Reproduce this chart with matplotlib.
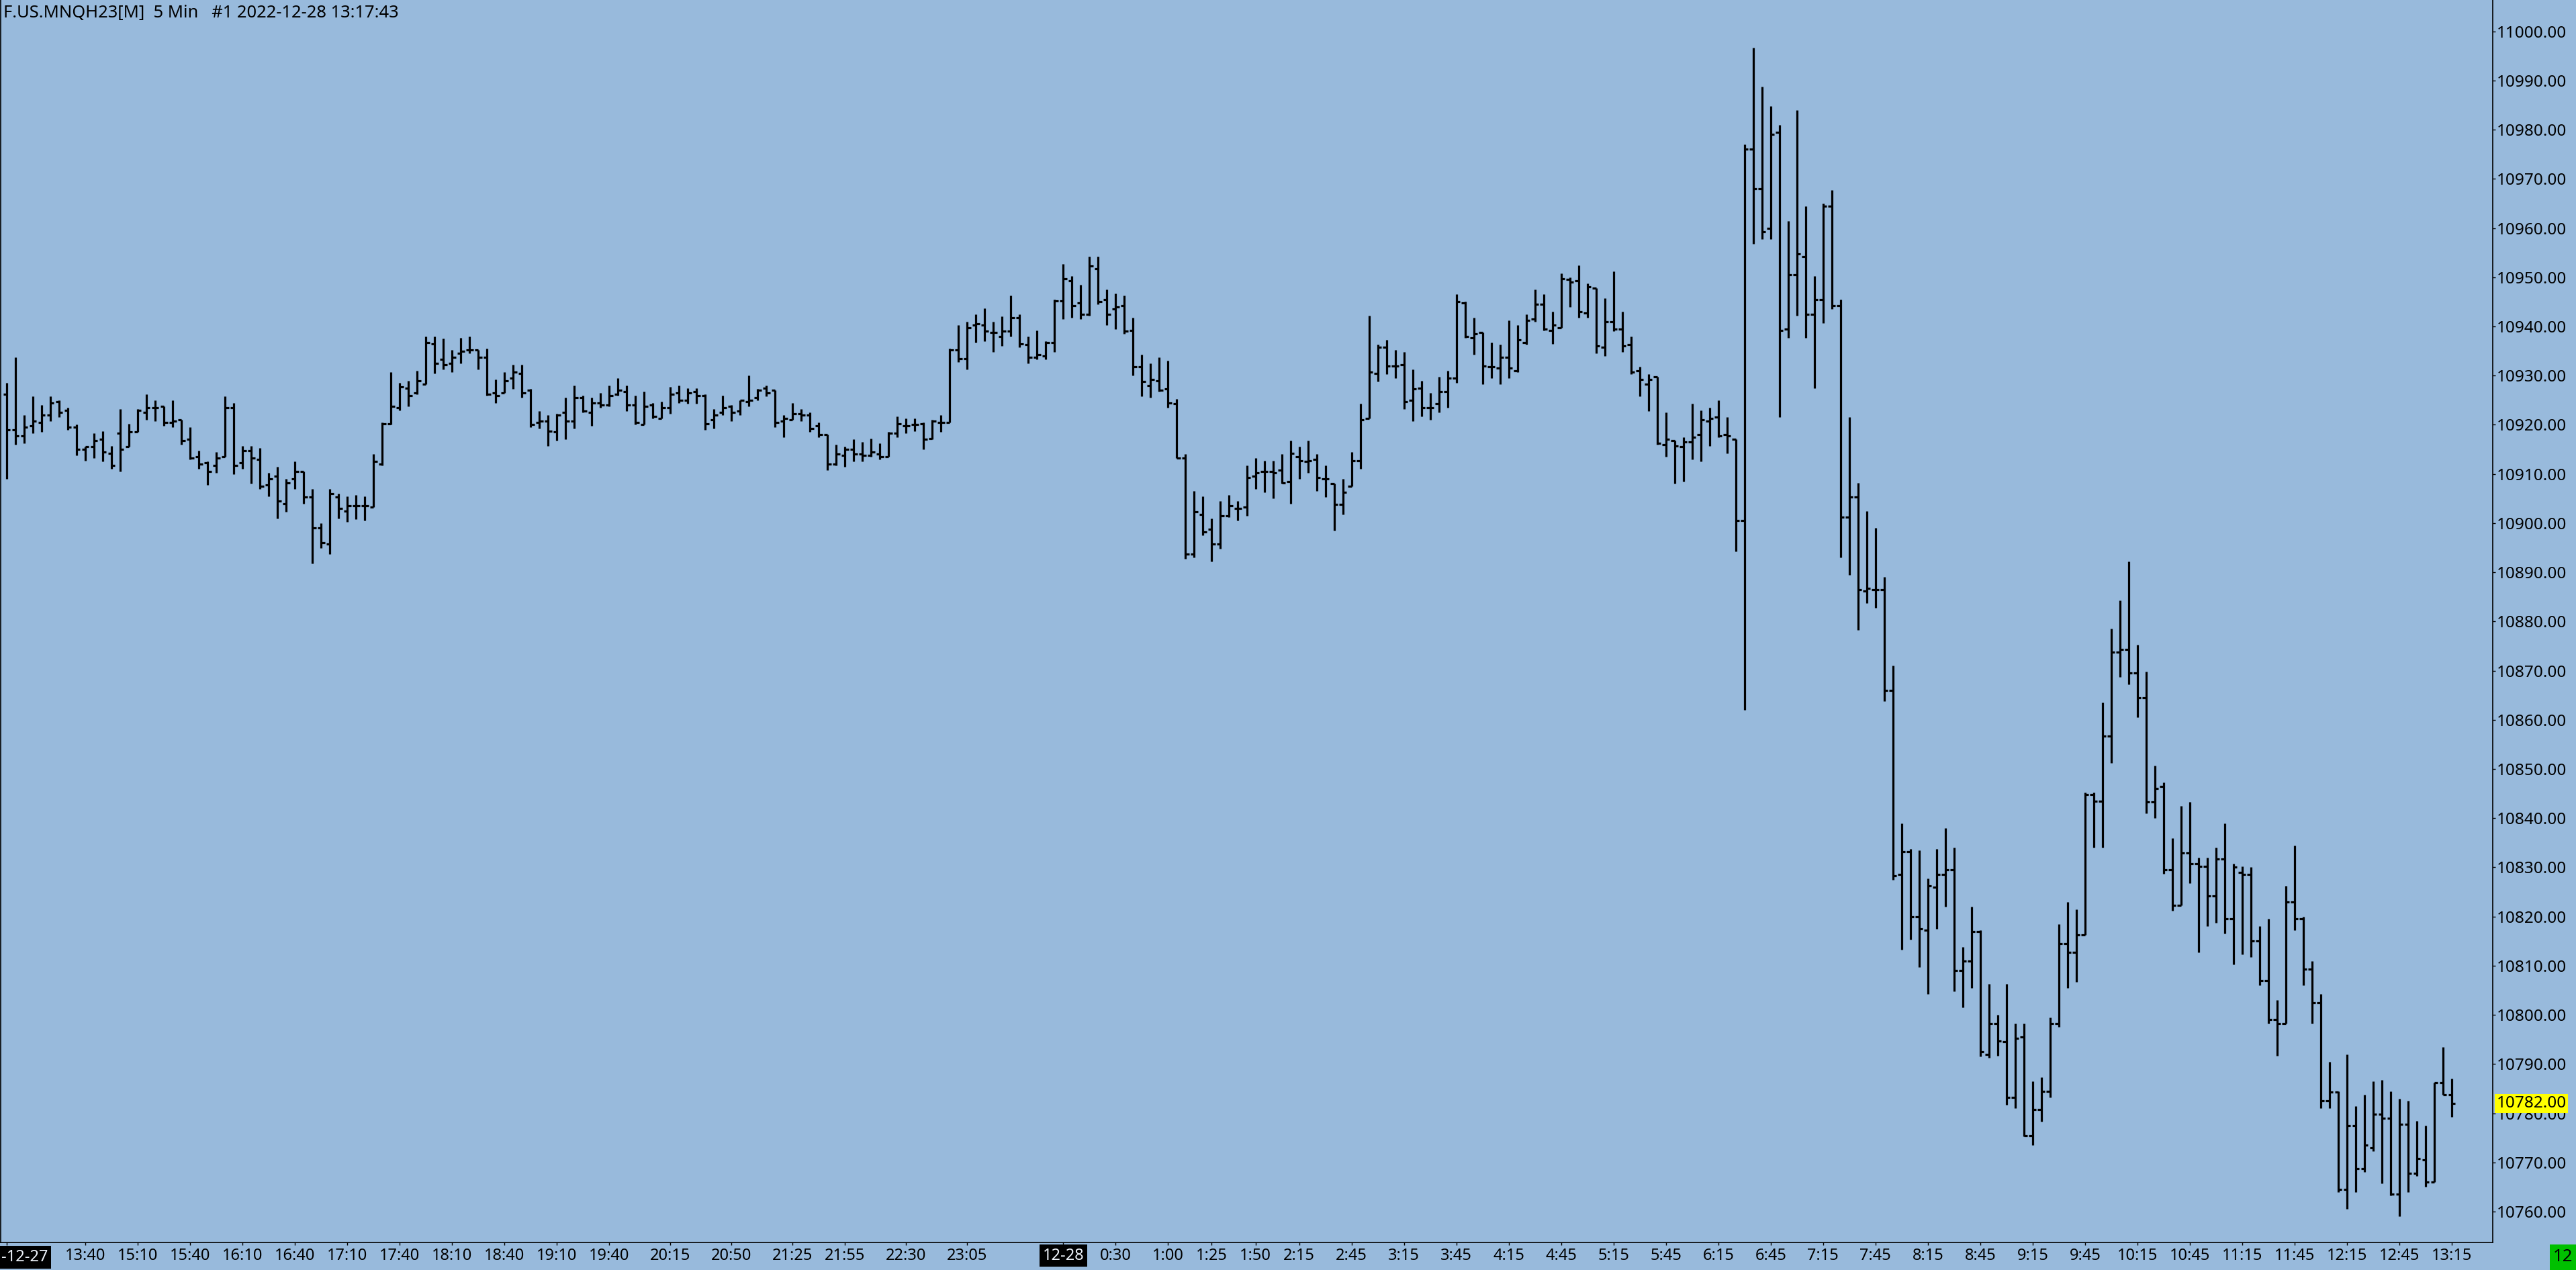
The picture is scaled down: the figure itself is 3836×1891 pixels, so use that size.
import numpy as np
from matplotlib import pyplot as plt
from matplotlib import transforms
from matplotlib.patches import Rectangle
from matplotlib.ticker import FormatStrFormatter

plt.rcParams['font.family'] = ['Noto Sans', 'DejaVu Sans']

# 5 min bars, 2022-12-27 12:55 .. 2022-12-28 13:15 (14:00-14:55 halt missing)
opens = [10926.25, 10919.0, 10917.75, 10919.75, 10920.5, 10922.0, 10924.75, 10923.0, 10919.5, 10915.0,
         10915.5, 10917.0, 10914.25, 10918.25, 10915.5, 10918.5, 10922.5, 10923.5, 10923.75, 10920.5,
         10921.0, 10917.0, 10913.5, 10912.25, 10911.75, 10913.5, 10923.5, 10912.25, 10914.75, 10913.0,
         10907.75, 10909.5, 10904.0, 10909.0, 10910.5, 10905.25, 10899.0, 10895.75, 10905.25, 10902.5,
         10903.5, 10903.5, 10903.25, 10912.0, 10920.25, 10923.5, 10927.5, 10926.5, 10928.25, 10936.5,
         10933.25, 10932.5, 10934.5, 10935.25, 10935.25, 10933.75, 10926.5, 10926.5, 10929.5, 10930.5,
         10927.0, 10920.5, 10920.75, 10918.5, 10922.5, 10920.75, 10925.5, 10922.5, 10924.5, 10924.0,
         10926.25, 10926.75, 10924.0, 10920.0, 10924.0, 10921.25, 10923.5, 10926.5, 10925.0, 10926.75,
         10926.0, 10921.0, 10922.5, 10923.75, 10922.75, 10924.75, 10925.5, 10927.5, 10927.0, 10920.75,
         10921.0, 10922.25, 10922.0, 10919.75, 10918.0, 10912.0, 10913.75, 10915.0, 10914.0, 10913.75,
         10914.0, 10913.5, 10918.25, 10919.75, 10920.0, 10920.25, 10917.25, 10920.5, 10920.5, 10935.25,
         10933.5, 10940.25, 10940.25, 10938.75, 10938.0, 10939.0, 10941.75, 10936.25, 10933.75, 10934.0,
         10936.75, 10945.25, 10949.25, 10944.75, 10942.5, 10951.75, 10945.5, 10943.5, 10944.25, 10939.25,
         10931.75, 10928.0, 10929.0, 10927.25, 10924.25, 10913.25, 10893.75, 10901.75, 10898.75, 10895.75,
         10901.5, 10903.0, 10903.25, 10909.5, 10910.5, 10910.5, 10910.75, 10908.5, 10913.5, 10912.5,
         10913.0, 10909.0, 10908.0, 10903.75, 10907.5, 10912.75, 10921.25, 10930.5, 10935.75, 10932.0,
         10932.25, 10925.0, 10927.5, 10923.5, 10924.25, 10926.75, 10929.5, 10944.75, 10937.75, 10938.75,
         10931.75, 10931.5, 10933.75, 10931.0, 10936.75, 10941.5, 10944.5, 10939.25, 10939.75, 10949.5,
         10949.25, 10942.75, 10947.75, 10935.75, 10941.0, 10939.5, 10936.25, 10931.0, 10928.25, 10929.75,
         10916.0, 10916.75, 10915.5, 10916.5, 10918.0, 10920.75, 10921.5, 10918.0, 10917.0, 10900.5,
         10976.0, 10968.0, 10960.0, 10979.5, 10939.5, 10950.5, 10954.25, 10942.5, 10945.5, 10964.5,
         10944.25, 10901.25, 10905.25, 10886.25, 10886.5, 10886.5, 10866.0, 10828.5, 10833.25, 10820.0,
         10817.25, 10826.0, 10828.5, 10829.5, 10809.0, 10811.0, 10817.0, 10792.0, 10798.25, 10794.5,
         10783.25, 10795.5, 10775.5, 10780.75, 10784.5, 10798.25, 10814.5, 10812.75, 10816.25, 10844.75,
         10843.5, 10856.75, 10873.75, 10874.25, 10869.5, 10864.5, 10843.25, 10846.5, 10829.5, 10822.25,
         10833.0, 10830.75, 10830.25, 10824.25, 10831.75, 10819.5, 10829.0, 10828.5, 10815.0, 10807.0,
         10799.0, 10798.25, 10823.0, 10819.5, 10809.25, 10802.5, 10782.5, 10784.25, 10764.5, 10777.5,
         10768.75, 10773.0, 10779.75, 10779.0, 10763.5, 10777.75, 10767.75, 10770.5, 10766.0, 10786.25,
         10783.75]
highs = [10928.5, 10933.75, 10922.0, 10925.75, 10924.0, 10925.75, 10925.0, 10923.5, 10920.0, 10915.5,
         10918.25, 10918.75, 10915.75, 10923.25, 10920.25, 10923.25, 10926.25, 10925.0, 10923.75, 10925.0,
         10921.0, 10919.5, 10914.75, 10912.5, 10914.5, 10925.75, 10924.5, 10915.75, 10915.75, 10915.25,
         10910.25, 10911.5, 10909.0, 10912.5, 10910.5, 10907.0, 10900.0, 10907.0, 10906.0, 10905.5,
         10905.75, 10905.5, 10914.0, 10920.5, 10930.75, 10928.5, 10929.0, 10931.0, 10938.0, 10938.0,
         10937.5, 10935.25, 10937.75, 10938.0, 10935.25, 10935.5, 10929.25, 10930.75, 10932.25, 10932.25,
         10927.25, 10922.75, 10922.0, 10922.25, 10925.5, 10928.0, 10926.0, 10925.5, 10926.5, 10928.0,
         10929.5, 10928.0, 10926.0, 10926.75, 10924.5, 10924.75, 10927.75, 10928.0, 10927.5, 10927.5,
         10926.25, 10923.25, 10926.0, 10924.0, 10925.0, 10930.0, 10927.25, 10928.0, 10927.0, 10922.0,
         10924.5, 10923.25, 10922.5, 10920.5, 10918.0, 10916.0, 10915.5, 10917.0, 10916.5, 10917.25,
         10916.25, 10918.5, 10921.75, 10921.25, 10921.25, 10920.5, 10921.0, 10922.0, 10935.5, 10940.25,
         10941.0, 10942.5, 10943.75, 10941.0, 10942.0, 10946.25, 10942.5, 10938.0, 10939.25, 10937.0,
         10945.5, 10952.75, 10950.25, 10948.5, 10954.25, 10954.25, 10947.5, 10946.75, 10946.25, 10941.75,
         10934.25, 10932.5, 10933.75, 10933.0, 10925.25, 10914.0, 10906.5, 10905.5, 10901.0, 10904.5,
         10905.75, 10904.5, 10911.75, 10913.25, 10912.75, 10912.75, 10914.0, 10916.75, 10915.5, 10916.75,
         10914.0, 10911.75, 10908.0, 10909.0, 10914.5, 10924.25, 10942.25, 10936.25, 10937.25, 10935.25,
         10934.75, 10931.25, 10929.0, 10926.5, 10929.75, 10931.0, 10946.5, 10945.0, 10941.75, 10938.75,
         10936.75, 10936.25, 10941.25, 10940.25, 10942.5, 10947.5, 10946.5, 10943.0, 10950.75, 10950.0,
         10952.5, 10948.75, 10947.75, 10945.75, 10951.25, 10943.0, 10938.0, 10931.75, 10930.25, 10929.75,
         10922.5, 10916.75, 10917.5, 10924.25, 10923.0, 10923.5, 10925.0, 10921.5, 10917.0, 10977.0,
         10996.75, 10988.75, 10984.75, 10981.0, 10961.5, 10984.0, 10964.5, 10950.25, 10965.0, 10967.75,
         10945.5, 10921.5, 10908.25, 10902.5, 10899.0, 10889.0, 10871.0, 10839.0, 10833.75, 10833.5,
         10827.75, 10833.75, 10838.0, 10834.0, 10813.75, 10822.0, 10817.25, 10806.25, 10800.0, 10806.25,
         10798.25, 10798.25, 10786.5, 10787.25, 10799.5, 10818.5, 10823.0, 10821.5, 10845.25, 10845.25,
         10863.5, 10878.5, 10884.25, 10892.25, 10875.25, 10869.75, 10850.75, 10847.25, 10836.0, 10842.5,
         10843.25, 10832.0, 10832.0, 10834.0, 10839.0, 10830.75, 10830.25, 10830.0, 10818.0, 10819.5,
         10803.0, 10826.25, 10834.5, 10820.0, 10811.0, 10804.25, 10790.5, 10784.5, 10792.0, 10781.5,
         10783.75, 10786.5, 10786.75, 10784.5, 10783.0, 10782.5, 10778.5, 10777.5, 10786.25, 10793.5,
         10787.0]
lows = [10909.0, 10916.0, 10916.25, 10918.25, 10918.5, 10920.75, 10921.5, 10919.0, 10913.75, 10912.75,
        10913.25, 10912.5, 10911.0, 10910.5, 10915.5, 10918.5, 10921.0, 10920.75, 10919.75, 10919.5,
        10916.0, 10913.0, 10911.0, 10907.75, 10910.25, 10913.5, 10910.0, 10911.0, 10908.0, 10907.0,
        10905.5, 10901.0, 10902.25, 10907.0, 10904.0, 10891.75, 10895.0, 10893.75, 10901.0, 10900.25,
        10900.75, 10900.5, 10903.25, 10911.75, 10920.0, 10923.0, 10923.75, 10926.25, 10928.25, 10930.5,
        10931.25, 10930.75, 10932.5, 10934.5, 10931.25, 10926.0, 10924.5, 10926.5, 10927.25, 10925.5,
        10919.5, 10919.25, 10915.75, 10916.75, 10917.0, 10919.25, 10922.5, 10919.75, 10923.5, 10923.75,
        10926.0, 10922.75, 10920.0, 10920.0, 10921.25, 10921.25, 10922.25, 10924.5, 10924.25, 10924.25,
        10919.0, 10919.25, 10922.0, 10920.75, 10922.0, 10923.75, 10925.0, 10925.75, 10919.5, 10917.5,
        10921.0, 10920.75, 10918.5, 10917.5, 10910.75, 10911.75, 10911.5, 10912.5, 10912.5, 10913.5,
        10913.0, 10913.5, 10917.5, 10918.25, 10918.75, 10915.0, 10917.0, 10918.5, 10920.5, 10932.75,
        10931.25, 10936.75, 10937.0, 10934.75, 10936.0, 10938.0, 10935.75, 10932.5, 10933.25, 10933.25,
        10934.75, 10941.5, 10941.75, 10941.5, 10942.25, 10944.5, 10940.25, 10939.5, 10938.5, 10930.0,
        10925.75, 10925.5, 10926.75, 10923.5, 10913.25, 10892.75, 10893.0, 10897.5, 10892.25, 10894.75,
        10901.25, 10900.5, 10901.5, 10907.0, 10906.25, 10905.0, 10908.0, 10904.0, 10909.0, 10910.25,
        10906.5, 10905.25, 10898.5, 10901.75, 10907.5, 10911.0, 10921.25, 10928.75, 10930.25, 10929.5,
        10923.25, 10920.75, 10921.75, 10921.0, 10922.5, 10923.5, 10928.5, 10937.75, 10934.25, 10928.25,
        10929.5, 10928.25, 10929.5, 10930.75, 10936.25, 10941.0, 10939.25, 10936.5, 10939.75, 10944.0,
        10941.75, 10941.75, 10934.5, 10934.0, 10939.0, 10934.75, 10930.25, 10925.75, 10922.75, 10916.0,
        10913.5, 10908.0, 10908.5, 10913.0, 10912.5, 10915.75, 10917.5, 10914.25, 10894.25, 10862.0,
        10956.75, 10957.75, 10957.75, 10921.5, 10937.75, 10942.25, 10937.75, 10927.5, 10940.75, 10943.5,
        10893.0, 10889.5, 10878.25, 10883.75, 10882.75, 10863.75, 10827.5, 10813.25, 10815.25, 10809.75,
        10804.25, 10817.5, 10822.0, 10804.75, 10801.5, 10805.5, 10791.5, 10791.25, 10791.75, 10781.75,
        10781.0, 10775.25, 10773.5, 10778.25, 10783.25, 10797.5, 10805.5, 10806.75, 10816.25, 10834.0,
        10834.0, 10851.25, 10868.75, 10867.25, 10860.5, 10841.0, 10840.0, 10828.75, 10821.25, 10822.25,
        10826.75, 10812.75, 10818.0, 10818.75, 10816.5, 10810.25, 10812.25, 10811.75, 10806.0, 10798.25,
        10791.75, 10798.25, 10817.25, 10806.0, 10798.25, 10781.0, 10781.0, 10764.0, 10760.5, 10764.0,
        10768.0, 10772.25, 10765.75, 10763.25, 10759.0, 10764.0, 10767.25, 10765.0, 10766.0, 10783.75,
        10779.25]
closes = [10919.0, 10917.75, 10919.5, 10920.75, 10922.0, 10924.5, 10922.5, 10919.5, 10915.0, 10915.5,
          10916.75, 10914.5, 10911.75, 10915.0, 10918.5, 10923.0, 10923.5, 10923.5, 10920.5, 10920.75,
          10916.75, 10913.25, 10912.0, 10910.5, 10913.25, 10923.5, 10911.75, 10914.75, 10913.25, 10907.5,
          10909.0, 10904.5, 10908.25, 10910.5, 10905.25, 10899.0, 10896.0, 10906.0, 10903.0, 10903.5,
          10903.5, 10903.5, 10912.5, 10920.25, 10923.75, 10927.75, 10926.0, 10929.0, 10936.75, 10932.5,
          10932.25, 10933.75, 10935.0, 10935.25, 10933.75, 10926.25, 10926.0, 10929.0, 10930.75, 10926.5,
          10920.0, 10920.75, 10918.75, 10922.0, 10920.75, 10925.5, 10922.75, 10924.5, 10924.0, 10926.0,
          10927.0, 10924.0, 10920.5, 10923.75, 10921.75, 10923.5, 10926.25, 10925.0, 10926.5, 10926.0,
          10920.25, 10922.0, 10923.5, 10922.5, 10925.0, 10925.0, 10927.0, 10926.5, 10920.5, 10921.25,
          10922.25, 10922.0, 10919.25, 10918.0, 10912.0, 10914.0, 10915.0, 10914.0, 10913.75, 10914.5,
          10913.5, 10918.25, 10920.25, 10919.75, 10920.0, 10917.0, 10920.75, 10920.5, 10935.25, 10933.5,
          10939.75, 10940.5, 10939.0, 10938.75, 10939.0, 10941.75, 10936.5, 10933.75, 10934.25, 10936.75,
          10945.25, 10949.75, 10944.25, 10942.5, 10952.25, 10945.0, 10942.5, 10944.0, 10939.0, 10931.75,
          10928.75, 10929.25, 10927.0, 10924.5, 10913.25, 10893.75, 10902.25, 10898.25, 10895.75, 10901.5,
          10903.5, 10903.0, 10909.25, 10910.25, 10910.5, 10910.25, 10908.25, 10914.25, 10912.75, 10912.75,
          10909.25, 10909.0, 10903.75, 10906.25, 10912.75, 10921.0, 10930.75, 10935.75, 10932.0, 10932.0,
          10924.75, 10927.25, 10923.5, 10923.5, 10926.75, 10929.5, 10945.0, 10938.0, 10938.5, 10932.0,
          10931.75, 10933.75, 10931.5, 10937.25, 10941.25, 10944.5, 10939.5, 10940.25, 10949.75, 10949.0,
          10943.0, 10948.0, 10936.0, 10941.0, 10939.5, 10936.0, 10930.75, 10929.25, 10929.25, 10916.25,
          10917.0, 10915.75, 10916.5, 10917.5, 10921.0, 10921.25, 10917.75, 10917.75, 10900.5, 10976.0,
          10968.0, 10959.25, 10979.0, 10939.25, 10950.5, 10954.75, 10942.5, 10945.5, 10964.5, 10944.25,
          10901.25, 10905.25, 10886.5, 10886.75, 10886.5, 10866.0, 10828.25, 10833.25, 10820.0, 10817.5,
          10826.25, 10828.5, 10829.5, 10809.0, 10811.0, 10817.0, 10792.5, 10798.25, 10794.75, 10783.25,
          10795.25, 10775.5, 10780.75, 10784.5, 10798.25, 10814.5, 10812.75, 10816.25, 10844.75, 10843.5,
          10856.75, 10873.75, 10874.25, 10869.5, 10864.5, 10843.25, 10846.0, 10829.5, 10822.25, 10833.0,
          10830.75, 10830.25, 10824.25, 10831.75, 10819.5, 10830.0, 10828.5, 10815.0, 10807.0, 10799.0,
          10798.25, 10823.0, 10819.5, 10809.25, 10802.5, 10782.5, 10784.25, 10764.5, 10777.5, 10768.75,
          10773.5, 10779.75, 10779.0, 10763.5, 10777.75, 10767.75, 10770.75, 10766.0, 10786.25, 10783.75,
          10782.0]

tick_idx = [0, 9, 15, 21, 27, 33, 39, 45, 51, 57, 63, 69, 76, 83, 90, 96, 103, 110, 121, 127,
            133, 138, 143, 148, 154, 160, 166, 172, 178, 184, 190, 196, 202, 208, 214, 220, 226, 232,
            238, 244, 250, 256, 262, 268, 274, 280]
tick_lbl = ['', '13:40', '15:10', '15:40', '16:10', '16:40', '17:10', '17:40', '18:10', '18:40',
            '19:10', '19:40', '20:15', '20:50', '21:25', '21:55', '22:30', '23:05', '12-28', '0:30',
            '1:00', '1:25', '1:50', '2:15', '2:45', '3:15', '3:45', '4:15', '4:45', '5:15', '5:45',
            '6:15', '6:45', '7:15', '7:45', '8:15', '8:45', '9:15', '9:45', '10:15', '10:45', '11:15',
            '11:45', '12:15', '12:45', '13:15']
price_ticks = np.arange(10760, 11001, 10)
last_price = 10782.00

bg = '#98badc'
W, H = 3836, 1891
fs = 17.5

fig = plt.figure(figsize=(W/100, H/100), dpi=100)
fig.patch.set_facecolor(bg)
ax = fig.add_axes([1/W, 41/H, 3711/W, 1850/H])
ax.set_facecolor(bg)

x = np.arange(len(opens))
lw = 2.3
ax.vlines(x, lows, highs, color='k', lw=lw)
ax.hlines(opens, x - 0.42, x, color='k', lw=lw)
ax.hlines(closes, x, x + 0.42, color='k', lw=lw)

ax.set_xlim(-0.69, 284.69)
ax.set_ylim(10753.72, 11006.38)

for s in ['left', 'bottom', 'right']:
    ax.spines[s].set_color('k')
    ax.spines[s].set_linewidth(1.2)
ax.spines['top'].set_visible(False)

ax.yaxis.tick_right()
ax.set_yticks(price_ticks)
ax.yaxis.set_major_formatter(FormatStrFormatter('%.2f'))
ax.tick_params(axis='y', length=3, width=1, pad=1.5, labelsize=fs, colors='k')

ax.set_xticks(tick_idx)
ax.set_xticklabels(tick_lbl)
ax.tick_params(axis='x', length=3, width=1, pad=2.5, labelsize=fs - 0.5, colors='k')
for t in ax.get_xticklabels():
    if t.get_text() == '12-28':
        t.set_color('#eef3fa')
        t.set_bbox(dict(facecolor='black', edgecolor='none', boxstyle='square,pad=0.2'))

fig.text(2/W, 1 - 1872/H, '-12-27', ha='left', va='center', fontsize=fs - 0.5, color='#eef3fa',
         bbox=dict(facecolor='black', edgecolor='none', boxstyle='square,pad=0.2'))

# last price marker
tr = transforms.blended_transform_factory(ax.transAxes, ax.transData)
ax.text(1.0015, last_price, '%.2f' % last_price, transform=tr, ha='left', va='center',
        fontsize=fs, color='k', clip_on=False, zorder=5,
        bbox=dict(facecolor='#ffff00', edgecolor='none', boxstyle='square,pad=0.1'))

# bar timer box
fig.patches.append(Rectangle((3797/W, 0), 39/W, 38/H, transform=fig.transFigure,
                             facecolor='#00c000', edgecolor='none'))
fig.text(3816/W, 19/H, '12', ha='center', va='center', fontsize=fs + 1, color='k')

fig.text(5/W, 1 - 20/H, 'F.US.MNQH23[M]  5 Min   #1 2022-12-28 13:17:43',
         ha='left', va='center', fontsize=18.4, color='k')

fig.savefig('out.png', dpi=100, facecolor=bg)
